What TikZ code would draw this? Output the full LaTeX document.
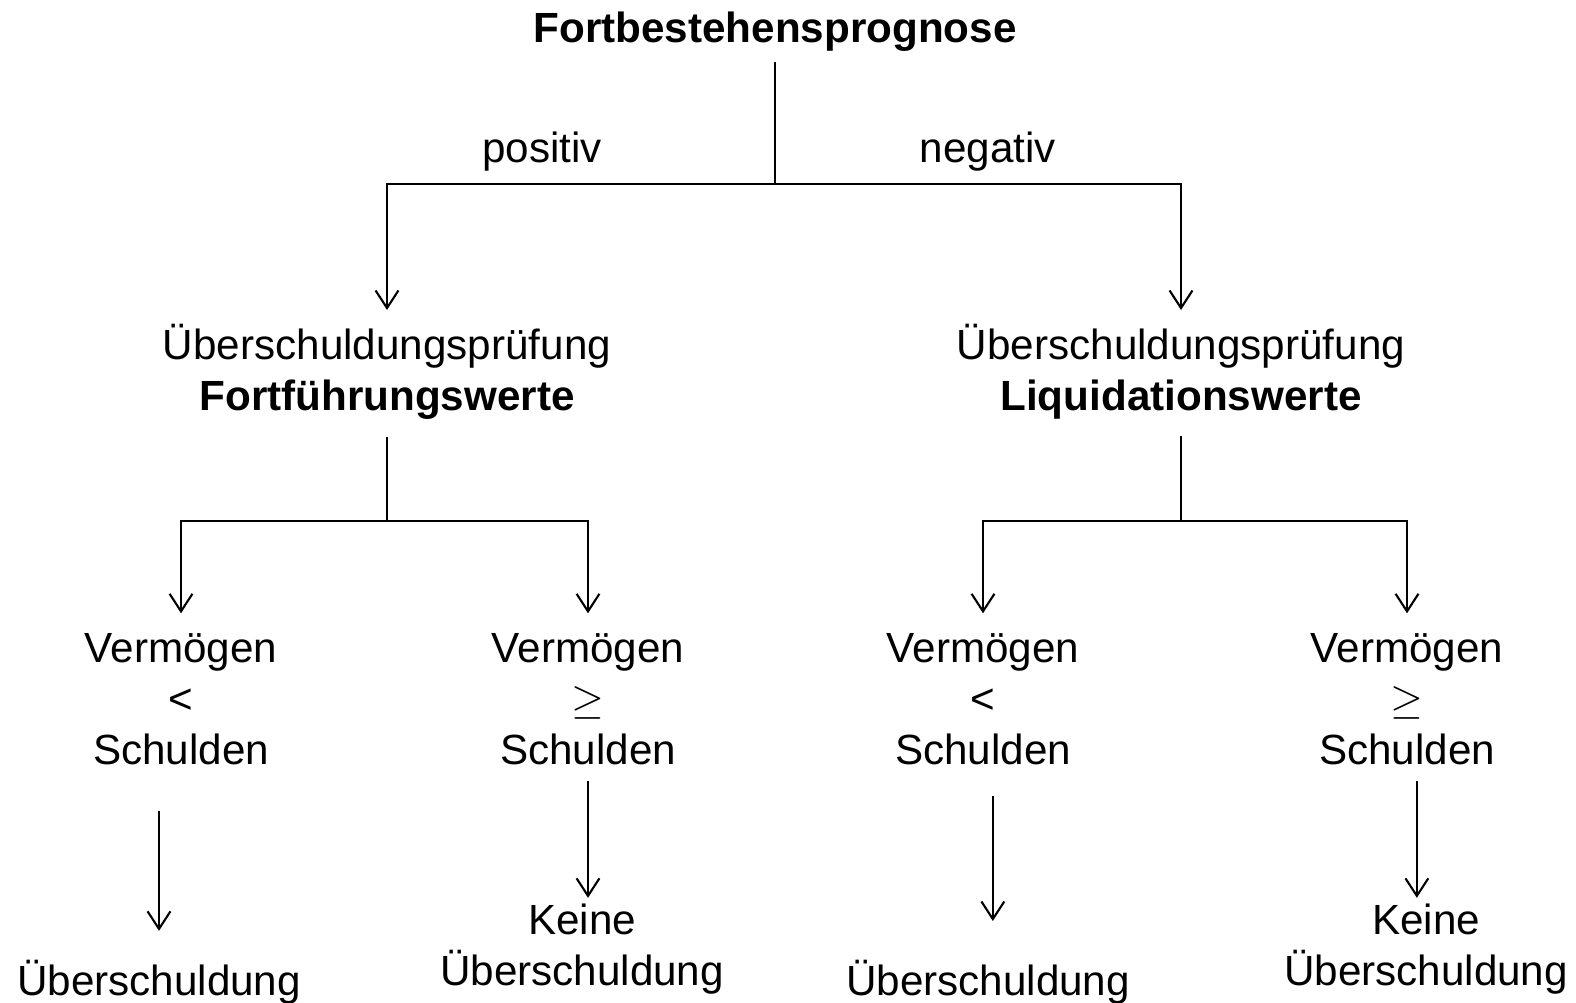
\documentclass[tikz,border=0pt]{standalone}
\usepackage{fontspec}
\setmainfont{Liberation Sans}
\usetikzlibrary{arrows.meta}
\tikzset{
  txt/.style={inner sep=0pt, anchor=base, align=center, font=\fontsize{12}{14.5}\selectfont},
  txtb/.style={txt, font=\fontsize{12}{14.5}\selectfont\bfseries},
  linie/.style={line width=0.6pt, draw=black},
  pfeil/.style={linie, -{Straight Barb[length=5pt,width=6.5pt,line width=0.6pt]}},
}

\begin{document}
\begin{tikzpicture}[x=0.01cm, y=-0.01cm]
  \useasboundingbox (0,0) rectangle (1576,1002);
  % Prognose
  \node[txtb] (prog) at (775,42) {Fortbestehensprognose};
  \node[txt] (pos) at (542,162) {positiv};
  \node[txt] (neg) at (988,162) {negativ};
  \coordinate (g0) at (775,184);
  % Ueberschuldungspruefung (base = letzte Zeile)
  \node[txt] (fw) at (387,410) {Überschuldungsprüfung\\\textbf{Fortführungswerte}};
  \node[txt] (lw) at (1181,410) {Überschuldungsprüfung\\\textbf{Liquidationswerte}};
  \coordinate (g1) at (387,521);
  \coordinate (g2) at (1181,521);
  % Vergleich
  \node[txt] (v1) at (181,764) {Vermögen\\<\\Schulden};
  \node[txt] (v2) at (588,764) {Vermögen\\$\geq$\\Schulden};
  \node[txt] (v3) at (983,764) {Vermögen\\<\\Schulden};
  \node[txt] (v4) at (1407,764) {Vermögen\\$\geq$\\Schulden};
  % Ergebnis
  \node[txt] (u1) at (159,995) {Überschuldung};
  \node[txt] (u2) at (582,985) {Keine\\Überschuldung};
  \node[txt] (u3) at (988,995) {Überschuldung};
  \node[txt] (u4) at (1426,985) {Keine\\Überschuldung};

  \draw[linie, shorten <=2.8pt] (prog) -- (g0);
  \draw[pfeil, shorten >=3.7pt] (g0) -| (fw);
  \draw[pfeil, shorten >=3.7pt] (g0) -| (lw);
  \draw[linie, shorten <=4.8pt] (fw) -- (g1);
  \draw[linie, shorten <=4.8pt] (lw) -- (g2);
  \draw[pfeil, shorten >=5.4pt] (g1) -| (v1);
  \draw[pfeil, shorten >=5.4pt] (g1) -| (v2);
  \draw[pfeil, shorten >=5.4pt] (g2) -| (v3);
  \draw[pfeil, shorten >=5.4pt] (g2) -| (v4);
  \draw[pfeil, shorten <=13.1pt, shorten >=8pt] (u1 |- v1.south) -- (u1);
  \draw[pfeil, shorten <=4.6pt, shorten >=1.4pt] (v2) -- (v2 |- u2.north);
  \draw[pfeil, shorten <=8.8pt, shorten >=10.8pt] ([xshift=2.8pt]v3.south) -- ([xshift=2.8pt]v3.south |- u3.north);
  \draw[pfeil, shorten <=4.6pt, shorten >=1.4pt] ([xshift=2.8pt]v4.south) -- ([xshift=2.8pt]v4.south |- u4.north);
\end{tikzpicture}
\end{document}
